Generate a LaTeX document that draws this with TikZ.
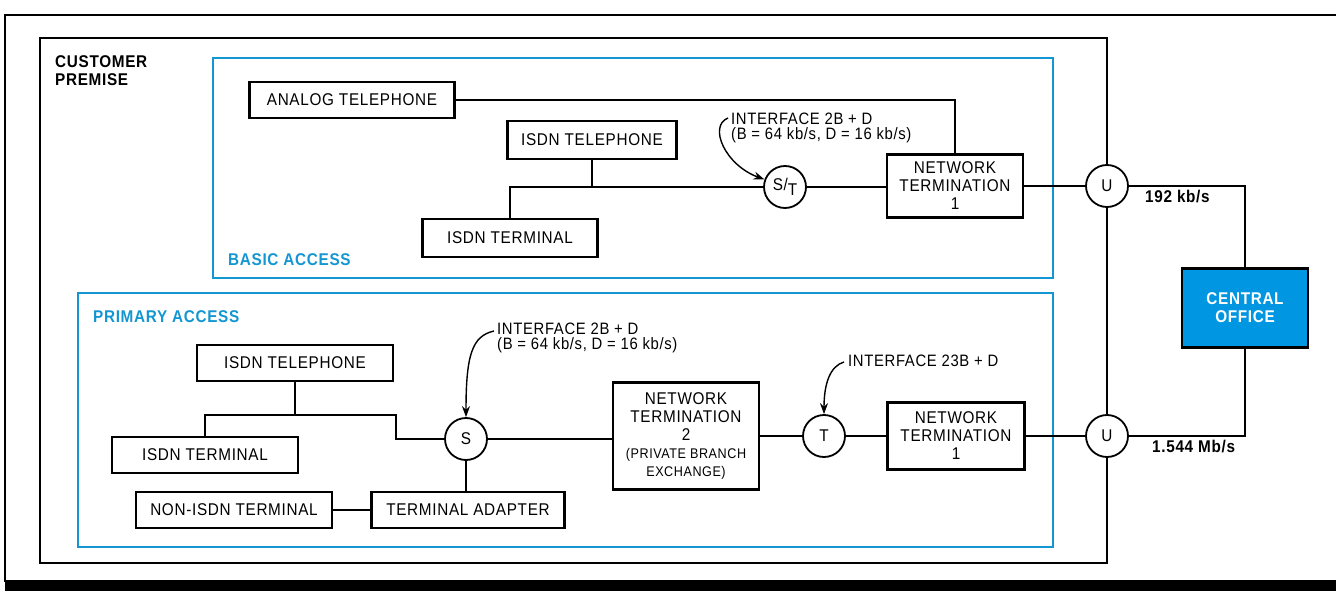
\documentclass[tikz,border=0pt]{standalone}
\usepackage{fontspec}
\setmainfont{Liberation Sans}[FakeStretch=0.9, LetterSpace=4]
\usetikzlibrary{arrows.meta, positioning, calc}
\definecolor{accessblue}{RGB}{20, 150, 210}
\definecolor{officeblue}{RGB}{0, 150, 225}
\newcommand{\labelfont}{\fontsize{17}{18}\selectfont}
\newcommand{\notefont}{\fontsize{16.5}{15.5}\selectfont}
\newcommand{\smallfont}{\fontsize{14}{15}\selectfont}
\tikzset{
    box/.style={draw, line width=2.2pt, fill=white, minimum height=36, inner sep=0, align=center, font=\labelfont},
    port/.style={circle, draw, line width=1.8pt, fill=white, minimum size=42, inner sep=0, font=\labelfont},
    area/.style={draw=accessblue, line width=2pt},
    areatitle/.style={anchor=west, inner sep=0, text=accessblue, font=\labelfont\bfseries},
    note/.style={anchor=west, inner sep=0, align=left, font=\notefont},
    rate/.style={anchor=west, inner sep=0, font=\labelfont\bfseries},
    wire/.style={line width=1.4pt},
    callout/.style={line width=1.4pt, -{Stealth[length=11pt, width=8pt]}}
}

\begin{document}
\begin{tikzpicture}[x=1pt, y=-1pt]
    \useasboundingbox (0,0) rectangle (1336,591);

    % Page frame
    \draw[line width=1.5pt] (1336,15) -- (5,15) -- (5,582);
    \fill[black] (5,580) rectangle (1336,591);

    % Customer premise
    \draw[line width=1.8pt] (40,38) rectangle (1107,563);
    \node[anchor=north west, inner sep=0, align=left, font=\labelfont\bfseries] (premise) at (55,55) {CUSTOMER\\PREMISE};

    % Basic access
    \draw[area] (213,58) rectangle (1053,278);
    \node[areatitle] (basic) at (228,260) {BASIC ACCESS};

    \node[box, minimum width=205] (atel) at (352,100) {ANALOG TELEPHONE};
    \node[box, minimum width=169, minimum height=38] (itelA) at (592,140) {ISDN TELEPHONE};
    \node[box, minimum width=175, minimum height=38] (itermA) at (510,238) {ISDN TERMINAL};
    \node[port] (st) at (785,187) {S/\raisebox{-0.6ex}{T}};
    \node[box, minimum width=136, minimum height=63] (ntA) at (955,186) {NETWORK\\TERMINATION\\1};

    \draw[wire] (atel.east) -| (ntA.north);
    \draw[wire] (itelA.south) -- (itelA.south |- st.west);
    \draw[wire] (itermA.north) |- (st.west);
    \draw[wire] (st.east) -- (st.east -| ntA.west);

    \node[note] (ifA) at (731,128) {INTERFACE 2B + D\\(B = 64 kb/s, D = 16 kb/s)};
    \coordinate (ifAtail) at (728,118);
    \draw[callout] (ifAtail) .. controls (708,126) and (725,165) .. (st);

    % Primary access
    \draw[area] (78,293) rectangle (1053,547);
    \node[areatitle] (primary) at (93,317) {PRIMARY ACCESS};

    \node[box, minimum width=196] (itelB) at (295,363) {ISDN TELEPHONE};
    \node[box, minimum width=186] (itermB) at (205,455) {ISDN TERMINAL};
    \node[box, minimum width=196] (nonisdn) at (234,510) {NON-ISDN TERMINAL};
    \node[box, minimum width=193] (ta) at (468,510) {TERMINAL ADAPTER};
    \node[port] (s) at (466,439) {S};
    \node[box, minimum width=146, minimum height=107] (ntwo) at (686,436) {NETWORK\\TERMINATION\\2\\\smallfont(PRIVATE BRANCH\\\smallfont EXCHANGE)};
    \node[port] (t) at (824,436) {T};
    \node[box, minimum width=137, minimum height=67] (ntB) at (956,436) {NETWORK\\TERMINATION\\1};

    \coordinate (bend) at (396,415);
    \draw[wire] (itermB.north) |- (bend) |- (s.west);
    \draw[wire] (itelB.south) -- (itelB.south |- bend);
    \draw[wire] (nonisdn) -- (ta);
    \draw[wire] (s.south) -- (s.south |- ta.north);
    \draw[wire] (s.east) -- (s.east -| ntwo.west);
    \draw[wire] (ntwo) -- (t) (t) -- (ntB);

    \node[note] (ifB) at (497,338) {INTERFACE 2B + D\\(B = 64 kb/s, D = 16 kb/s)};
    \coordinate (ifBtail) at (494,331);
    \draw[callout] (ifBtail) .. controls (472,336) and (466,355) .. (s);

    \node[note] (ifC) at (848,361) {INTERFACE 23B + D};
    \coordinate (ifCtail) at (844,362);
    \draw[callout] (ifCtail) .. controls (830,366) and (824,384) .. (t);

    % Central office side
    \node[port] (uA) at (1107,186) {U};
    \node[port] (uB) at (1107,436) {U};
    \node[box, fill=officeblue, minimum width=126, minimum height=79, text=white, font=\labelfont\bfseries] (co) at (1245,308) {CENTRAL\\OFFICE};

    \draw[wire] (ntA) -- (uA);
    \draw[wire] (ntB) -- (uB);
    \draw[wire] (uA.east) -| (co.north);
    \draw[wire] (uB.east) -| (co.south);
    \node[rate] (rateA) at (1145,197) {192 kb/s};
    \node[rate] (rateB) at (1152,447) {1.544 Mb/s};

\end{tikzpicture}
\end{document}
